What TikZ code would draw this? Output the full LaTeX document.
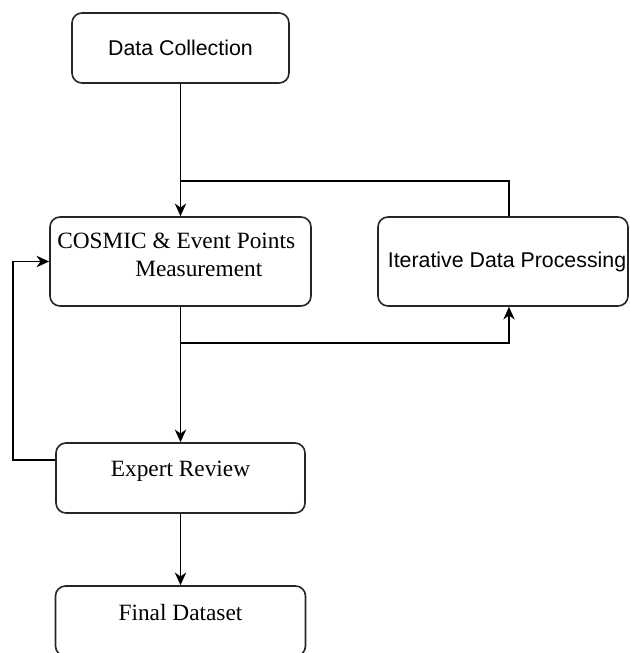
\documentclass[tikz,border=0pt]{standalone}
\usepackage{fontspec}
\setmainfont{Liberation Serif}
\newfontfamily\sansfam{Liberation Sans}
\usetikzlibrary{arrows.meta,calc}
\begin{document}
\begin{tikzpicture}[x=0.75pt,y=-0.75pt,
  box/.style={draw=black!85, line width=1.2pt, rounded corners=7.5pt, inner sep=0pt},
  ln/.style={draw=black, line width=1.2pt},
  arr/.style={ln, -{Stealth[length=9.5pt,width=8.5pt,inset=3pt]}},
  sanslbl/.style={font=\sansfam\fontsize{16}{19}\selectfont, inner sep=0pt, anchor=base},
  seriflbl/.style={font=\fontsize{17.5}{21}\selectfont, inner sep=0pt}]
\useasboundingbox (0,0) rectangle (630,653);

% boxes
\node[box, minimum width=162.75pt, minimum height=52.5pt] (dc) at (180.5,48) {};
\node[box, minimum width=195.75pt, minimum height=66.75pt] (cosmic) at (180.5,261.5) {};
\node[box, minimum width=187.5pt, minimum height=66.75pt] (iter) at (503,261.5) {};
\node[box, minimum width=186.75pt, minimum height=52.5pt] (expert) at (180.5,478) {};
\node[box, minimum width=187.5pt, minimum height=52.5pt] (final) at (180.5,621) {};

% labels
\node[sanslbl] (dct) at (180.5,55.6) {Data Collection};
\node[sanslbl] (itt) at (507,267.7) {Iterative Data Processing};
\node[seriflbl, anchor=west, align=left] (cot) at (57,254.5)
  {COSMIC \& Event Points\\\hspace*{58.5pt}Measurement};
\node[seriflbl, anchor=base] (ext) at (180.5,476) {Expert Review};
\node[seriflbl, anchor=base] (fit) at (180.5,620) {Final Dataset};

% junction coordinates
\coordinate (j1) at (180.5,181);
\coordinate (j2) at (180.5,343);
\coordinate (itn) at ($(iter.north)+(6,0)$);
\coordinate (its) at ($(iter.south)+(6,0)$);
\coordinate (ew) at ($(expert.west)+(0,-18)$);
\coordinate (lc) at (13,460);

% connectors
\draw[arr] (dc.south) -- (cosmic.north);
\draw[ln] (j1) -| (itn);
\draw[arr] (cosmic.south) -- (expert.north);
\draw[arr] (j2) -| (its);
\draw[arr] (ew) -- (lc) |- (cosmic.west);
\draw[arr] (expert.south) -- (final.north);
\end{tikzpicture}
\end{document}
